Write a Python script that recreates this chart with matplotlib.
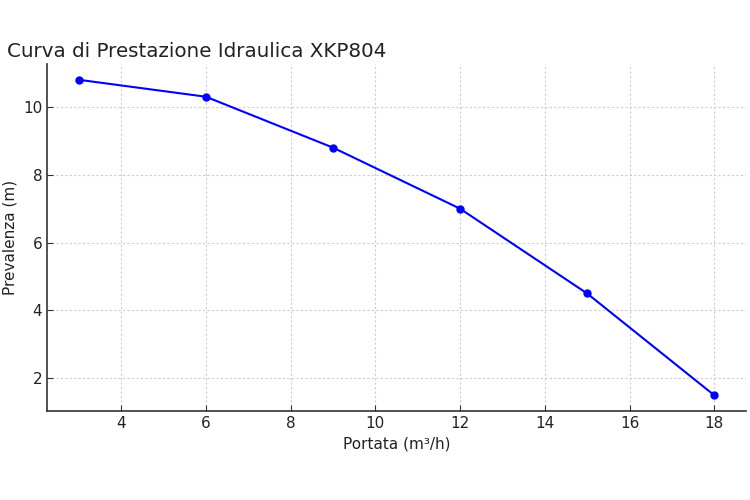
import matplotlib
matplotlib.use("Agg")
import matplotlib.pyplot as plt

portata = [3, 6, 9, 12, 15, 18]
prevalenza = [10.8, 10.3, 8.8, 7.0, 4.5, 1.5]
x_ticks = [4, 6, 8, 10, 12, 14, 16, 18]
y_ticks = [2, 4, 6, 8, 10]

plt.rcParams['font.family'] = ['DejaVu Sans']
fig = plt.figure(figsize=(7.5, 5), dpi=100)
ax = fig.add_axes([47/750, 1 - 411/500, (746 - 47)/750, (411 - 64)/500])

ax.plot(portata, prevalenza, color='blue', marker='o', markersize=5, linewidth=1.5)
ax.set_xticks(x_ticks)
ax.set_yticks(y_ticks)
ax.grid(True, linestyle=(0, (2, 2)), color='#cccccc', linewidth=0.8)
for s in ['top', 'right']:
    ax.spines[s].set_visible(False)
for s in ['left', 'bottom']:
    ax.spines[s].set_color('#333333')
    ax.spines[s].set_linewidth(1.2)
ax.tick_params(direction='in', length=4, colors='#333333', labelcolor='#222222', labelsize=11)
ax.set_xlabel('Portata (m³/h)', fontsize=11, color='#222222')
ax.set_ylabel('Prevalenza (m)', fontsize=11, color='#222222')
ax.set_title('Curva di Prestazione Idraulica XKP804', loc='left', fontsize=14.3,
             color='#222222', x=-0.057, pad=5)

fig.savefig('out.png', dpi=100)
